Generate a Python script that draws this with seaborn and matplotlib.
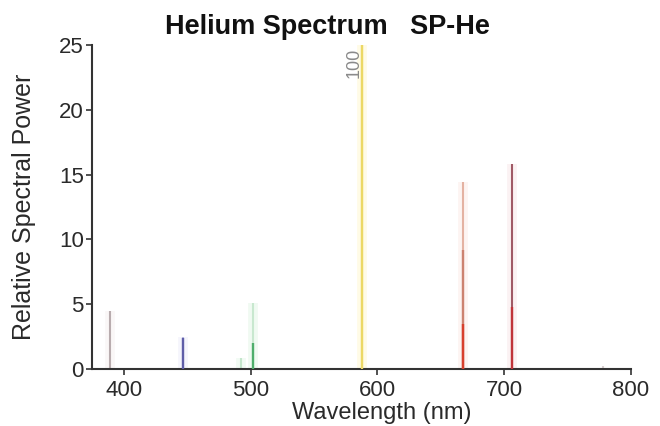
import matplotlib
matplotlib.use("Agg")
import matplotlib.pyplot as plt
import seaborn as sns

# helium emission lines (nm) and relative power
wavelengths = [388.9, 447.1, 492.2, 501.6, 587.6, 667.8, 706.5, 778.0]
peak_power = [4.5, 2.5, 0.85, 5.1, 100, 14.4, 15.8, 0.25]
mid_power = [0, 0, 0, 0, 0, 9.2, 0, 0]
core_power = [0, 2.4, 0, 2.0, 100, 3.5, 4.8, 0]
peak_colors = ["#b8acae", "#b8b8e0", "#c4e6cc", "#c8e8cf", "#ecd865", "#e4b2a2", "#a05a66", "#d8d0d0"]
mid_colors = ["none", "none", "none", "none", "none", "#cc8270", "none", "none"]
core_colors = ["none", "#5f5ea8", "none", "#4fae6c", "#ecd865", "#d8402e", "#c0343a", "none"]
glow_colors = ["#faf7f7", "#f5f5fc", "#f2fbf4", "#f0faf2", "#fffbe6", "#fdf4f2", "#fbf2f3", "#ffffff"]
peak_label = "100"
x_ticks = [400, 500, 600, 700, 800]
y_ticks = [0, 5, 10, 15, 20, 25]

sns.set_style("ticks")
plt.rcParams['font.family'] = ['Liberation Sans', 'DejaVu Sans']

fig = plt.figure(figsize=(6.6, 4.26), dpi=100)
ax = fig.add_axes([92 / 660, 1 - 369 / 426, (631 - 92) / 660, (369 - 45) / 426])

ax.vlines(wavelengths, 0, peak_power, colors=glow_colors, linewidth=7, zorder=1)
ax.vlines(wavelengths, 0, peak_power, colors=peak_colors, linewidth=1.5, zorder=2)
for w, m, c in zip(wavelengths, mid_power, mid_colors):
    if m > 0:
        ax.vlines(w, 0, m, colors=c, linewidth=1.7, zorder=3)
for w, m, c in zip(wavelengths, core_power, core_colors):
    if m > 0:
        ax.vlines(w, 0, m, colors=c, linewidth=1.7, zorder=4)

# label for the off-scale yellow line
i_max = peak_power.index(max(peak_power))
ax.annotate(peak_label, xy=(wavelengths[i_max], 25), xytext=(-5.5, -2),
            textcoords="offset points", rotation=90, ha="center", va="top",
            fontsize=13, color="#8a8a8a")

ax.set_xlim(375, 800)
ax.set_ylim(0, 25)
ax.set_xticks(x_ticks)
ax.set_yticks(y_ticks)
ax.tick_params(axis="both", direction="out", length=4, width=1.2, colors="#333333",
               labelsize=16, labelcolor="#2a2a2a", pad=2)
ax.tick_params(axis="x", pad=4)
for s in ["left", "bottom"]:
    ax.spines[s].set_color("#333333")
    ax.spines[s].set_linewidth(1.5)
sns.despine(ax=ax)

ax.set_xlabel("Wavelength (nm)", fontsize=17, color="#2a2a2a", va="center")
ax.xaxis.set_label_coords((382 - 92) / 539, (369 - 413) / 324)
ax.set_ylabel("Relative Spectral Power", fontsize=18, color="#2a2a2a", va="center")
ax.yaxis.set_label_coords((24 - 92) / 539, 0.5)
fig.text(327 / 660, 1 - 27 / 426, "Helium Spectrum   SP-He", ha="center", va="center",
         fontsize=19.5, fontweight="bold", color="#111111")

fig.savefig("out.png", dpi=100)
